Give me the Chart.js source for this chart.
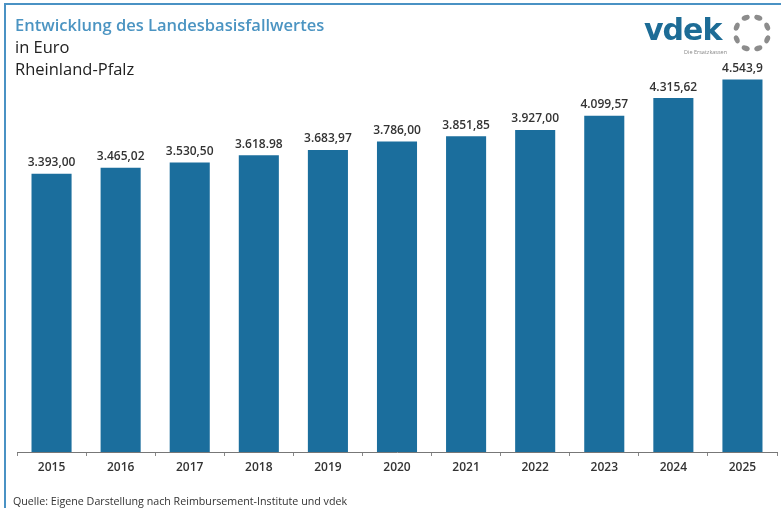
<!DOCTYPE html>
<html>
<head>
<meta charset="utf-8">
<script src="https://cdn.jsdelivr.net/npm/chart.js@4/dist/chart.umd.min.js"></script>
<style>
  html, body { margin: 0; padding: 0; background: #fff; }
  #wrap { position: relative; width: 781px; height: 508px; overflow: hidden; font-family: "Open Sans", "Noto Sans", sans-serif; }
  #chart { position: absolute; left: 0; top: 0; }
  #frame { position: absolute; left: 4px; top: 3px; width: 775px; height: 520px;
    border-top: 2px solid #4a92c4; border-left: 2px solid #4a92c4; border-right: 1px solid #d6e8f3; }
  .txt { position: absolute; white-space: nowrap; }
  #title { left: 15px; top: 13px; font-size: 16.5px; font-weight: 600; color: #4b94c2; }
  #sub1 { left: 15px; top: 35px; font-size: 16.5px; font-weight: 500; color: #222; }
  #sub2 { left: 15px; top: 57px; font-size: 16.5px; font-weight: 500; color: #222; }
  #source { left: 13px; top: 494px; font-size: 10.7px; color: #333; }
  #logo { left: 644px; top: 12px; font-size: 30px; font-weight: 700; color: #1d6c96; letter-spacing: -1px; font-family: "DejaVu Sans", sans-serif; }
  #logosub { left: 684px; top: 48px; font-size: 5.5px; color: #888; }
  #ring { position: absolute; left: 731px; top: 12px; }
</style>
</head>
<body>
<div id="wrap">
  <canvas id="chart" width="781" height="508"></canvas>
  <div id="frame"></div>
  <div class="txt" id="title">Entwicklung des Landesbasisfallwertes</div>
  <div class="txt" id="sub1">in Euro</div>
  <div class="txt" id="sub2">Rheinland-Pfalz</div>
  <div class="txt" id="logo">vdek</div>
  <div class="txt" id="logosub">Die Ersatzkassen</div>
  <svg id="ring" width="42" height="42" viewBox="0 0 42 42"></svg>
  <div class="txt" id="source">Quelle: Eigene Darstellung nach Reimbursement-Institute und vdek</div>
</div>
<script>
// data
const years = ['2015', '2016', '2017', '2018', '2019', '2020', '2021', '2022', '2023', '2024', '2025'];
const values = [3393.00, 3465.02, 3530.50, 3618.98, 3683.97, 3786.00, 3851.85, 3927.00, 4099.57, 4315.62, 4543.9];
const valueLabels = ['3.393,00', '3.465,02', '3.530,50', '3.618.98', '3.683,97', '3.786,00', '3.851,85', '3.927,00', '4.099,57', '4.315,62', '4.543,9'];

// logo ring of dots
const ring = document.getElementById('ring');
for (let i = 0; i < 8; i++) {
  const a = i * 45;
  const e = document.createElementNS('http://www.w3.org/2000/svg', 'ellipse');
  e.setAttribute('cx', 21);
  e.setAttribute('cy', 4.5);
  e.setAttribute('rx', 4.2);
  e.setAttribute('ry', 2.6);
  e.setAttribute('fill', '#8c8c8c');
  e.setAttribute('transform', 'rotate(' + (a + 22.5) + ' 21 21)');
  ring.appendChild(e);
}

const barLabels = {
  id: 'barLabels',
  afterDatasetsDraw(chart) {
    const ctx = chart.ctx;
    const meta = chart.getDatasetMeta(0);
    ctx.save();
    ctx.font = '600 12px "Open Sans", sans-serif';
    ctx.fillStyle = '#333';
    ctx.textAlign = 'center';
    ctx.textBaseline = 'bottom';
    meta.data.forEach((bar, i) => {
      ctx.fillText(valueLabels[i], bar.x, bar.y - 5);
    });
    ctx.restore();
  }
};

new Chart(document.getElementById('chart'), {
  type: 'bar',
  data: {
    labels: years,
    datasets: [{
      data: values,
      backgroundColor: '#1b6e9d',
      barPercentage: 0.58,
      categoryPercentage: 1
    }]
  },
  options: {
    responsive: false,
    animation: false,
    devicePixelRatio: 1,
    layout: { padding: { left: 17, right: 4, top: 42, bottom: 0 } },
    plugins: { legend: { display: false }, tooltip: { enabled: false } },
    scales: {
      x: {
        grid: { drawOnChartArea: false, color: '#888', tickLength: 4, offset: true },
        border: { color: '#777', width: 1 },
        ticks: { color: '#333', padding: 4, font: { family: '"Open Sans", sans-serif', size: 12, weight: '600' } },
        afterFit(scale) { scale.height = 56; }
      },
      y: {
        display: false,
        min: 0,
        max: 5000
      }
    }
  },
  plugins: [barLabels]
});
</script>
</body>
</html>
